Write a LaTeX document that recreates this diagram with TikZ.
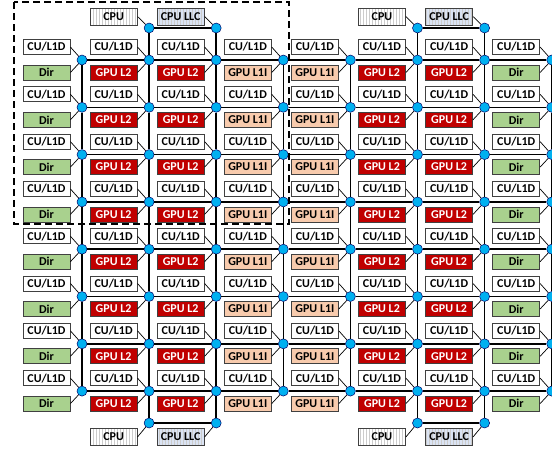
\documentclass[tikz,border=0pt]{standalone}
\usepackage{fontspec}
\setmainfont{Carlito}
\usetikzlibrary{patterns, calc}

\definecolor{dirgreen}{HTML}{A9D18E}
\definecolor{l2red}{HTML}{C00000}
\definecolor{l1peach}{HTML}{F8CBAD}
\definecolor{llcblue}{HTML}{DAE3F3}
\definecolor{routercyan}{HTML}{00B0F0}
\definecolor{boxline}{HTML}{404040}

\tikzset{
  tile/.style={draw=boxline, line width=0.8pt, minimum width=47pt, minimum height=15pt,
    inner sep=0pt, font=\fontsize{12}{12}\selectfont\bfseries},
  cubox/.style={tile, fill=white},
  dirbox/.style={tile, fill=dirgreen},
  l2box/.style={tile, fill=l2red, text=white},
  l1box/.style={tile, fill=l1peach},
  cpubox/.style={tile, minimum height=17pt, preaction={fill=white}, pattern=vertical lines, pattern color=gray!40},
  llcbox/.style={tile, minimum height=17pt, preaction={fill=llcblue}, pattern=vertical lines, pattern color=gray!40},
  router/.style={circle, fill=routercyan, draw=blue!40!black, line width=0.5pt, minimum size=10pt, inner sep=0pt},
  link/.style={line width=1.6pt},
  wire/.style={line width=0.7pt},
}

\begin{document}
\begin{tikzpicture}[x=1pt, y=-1pt]
    \useasboundingbox (0,0) rectangle (552,451);

    % routers of the 8x8 mesh
    \foreach \c in {1,...,8} {
        \foreach \r in {1,...,8} {
            \node[router] (r\c-\r) at ({82+67.1*(\c-1)}, {60+47.3*(\r-1)}) {};
        }
    }

    % extra routers for CPU and CPU LLC (top and bottom)
    \foreach \c in {2,3,6,7} {
        \node[router] (t\c) at ({82+67.1*(\c-1)}, 28) {};
        \node[router] (b\c) at ({82+67.1*(\c-1)}, 423) {};
    }

    % tiles: CU/L1D above, the other one below each router
    \foreach \c/\sty/\txt in {1/dirbox/Dir, 2/l2box/GPU L2, 3/l2box/GPU L2, 4/l1box/GPU L1I,
                              5/l1box/GPU L1I, 6/l2box/GPU L2, 7/l2box/GPU L2, 8/dirbox/Dir} {
        \foreach \r in {1,...,8} {
            \node[cubox] (cu\c-\r) at ($(r\c-\r)+(-35.5,-13)$) {CU/L1D};
            \node[\sty] (lo\c-\r) at ($(r\c-\r)+(-35.5,12.5)$) {\txt};
            \draw[wire] (cu\c-\r.east) -- (r\c-\r);
            \draw[wire] (lo\c-\r.east) -- (r\c-\r);
        }
    }

    % mesh links
    \foreach \c in {1,...,8} {
        \foreach \r [count=\n from 2] in {1,...,7} {
            \draw[link] (r\c-\r) -- (r\c-\n);
            \draw[link] (r\r-\c) -- (r\n-\c);
        }
    }
    \foreach \c in {2,3,6,7} {
        \draw[link] (t\c) -- (r\c-1);
        \draw[link] (b\c) -- (r\c-8);
    }
    \draw[link] (t2) -- (t3);
    \draw[link] (t6) -- (t7);
    \draw[link] (b2) -- (b3);
    \draw[link] (b6) -- (b7);

    % CPU and CPU LLC
    \foreach \p/\dy in {t/-11.5, b/14} {
        \node[cpubox] (cpu2\p) at ($(\p2)+(-35.5,\dy)$) {CPU};
        \node[llcbox] (llc3\p) at ($(\p3)+(-35.5,\dy)$) {CPU LLC};
        \node[cpubox] (cpu6\p) at ($(\p6)+(-35.5,\dy)$) {CPU};
        \node[llcbox] (llc7\p) at ($(\p7)+(-35.5,\dy)$) {CPU LLC};
        \draw[wire] (cpu2\p.east) -- (\p2);
        \draw[wire] (llc3\p.east) -- (\p3);
        \draw[wire] (cpu6\p.east) -- (\p6);
        \draw[wire] (llc7\p.east) -- (\p7);
    }

    % dashed frame
    \draw[line width=2pt, dash pattern=on 7pt off 4pt] (14,2) rectangle (289,224);
\end{tikzpicture}
\end{document}
